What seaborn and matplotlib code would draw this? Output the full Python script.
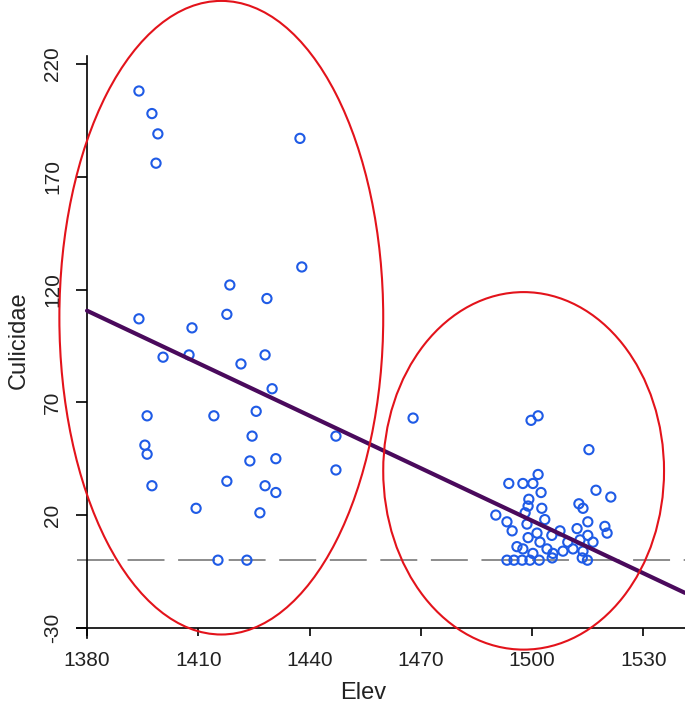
import matplotlib
matplotlib.use("Agg")
import matplotlib.pyplot as plt
from matplotlib.patches import Ellipse
import seaborn as sns
import pandas as pd

# ---- data ----
elev_low = [1394.0, 1397.5, 1399.1, 1398.6, 1437.4, 1437.9, 1418.5, 1428.5, 1394.0,
            1417.7, 1408.3, 1400.5, 1407.5, 1428.0, 1421.5, 1429.9, 1396.2, 1414.2,
            1425.6, 1424.5, 1447.1, 1395.6, 1396.2, 1423.9, 1430.9, 1447.1, 1417.7,
            1397.5, 1428.0, 1430.9, 1409.4, 1426.6, 1415.3, 1423.1]
culi_low = [208, 198, 189, 176, 187, 130, 122, 116, 107,
            109, 103, 90, 91, 91, 87, 76, 64, 64,
            66, 55, 55, 51, 47, 44, 45, 40, 35,
            33, 33, 30, 23, 21, 0, 0]

elev_mid = [1467.9]
culi_mid = [63]

elev_high = [1499.7, 1501.6, 1515.3, 1501.6, 1493.7, 1497.5, 1500.2, 1502.4, 1499.1,
             1517.2, 1521.2, 1512.6, 1513.7, 1498.9, 1502.6, 1490.2, 1498.1, 1493.2,
             1503.4, 1494.6, 1498.6, 1519.6, 1520.2, 1515.0, 1512.1, 1507.5, 1501.3,
             1505.3, 1515.0, 1498.9, 1495.9, 1502.1, 1509.6, 1512.9, 1516.4, 1497.5,
             1504.0, 1508.3, 1511.0, 1493.2, 1495.1, 1497.3, 1499.4, 1501.9, 1505.4,
             1513.5, 1514.9, 1500.2, 1505.6, 1513.7]
culi_high = [62, 64, 49, 38, 34, 34, 34, 30, 27,
             31, 28, 25, 23, 24, 23, 20, 21, 17,
             18, 13, 16, 15, 12, 17, 14, 13, 12,
             11, 11, 10, 6, 8, 8, 9, 8, 5,
             5, 4, 5, 0, 0, 0, 0, 0, 1,
             1, 0, 3, 3, 4]

# fitted line (value at 1380 and at the right edge)
fit_elev = [1380.0, 1541.2]
fit_culi = [110.6, -14.5]

ref_level = 0

x_ticks = [1380, 1410, 1440, 1470, 1500, 1530]
y_ticks = [-30, 20, 70, 120, 170, 220]

df = pd.DataFrame({
    "Elev": elev_low + elev_mid + elev_high,
    "Culicidae": culi_low + culi_mid + culi_high,
})
fit_df = pd.DataFrame({"Elev": fit_elev, "Culicidae": fit_culi})

# ---- drawing ----
sns.set_theme(style="ticks")
plt.rcParams["font.family"] = ["Liberation Sans", "DejaVu Sans"]

fig = plt.figure(figsize=(6.85, 7.11), dpi=100)
ax = fig.add_axes([77 / 685, 73 / 711, 608 / 685, 582.4 / 711])

ax.axhline(ref_level, color="#8c8c8c", lw=1.4, dashes=(19, 7), zorder=1)

sns.scatterplot(data=df, x="Elev", y="Culicidae", ax=ax, marker="o",
                s=44, facecolors="none", edgecolor="#1f5be6", linewidth=1.5,
                zorder=3, legend=False)

sns.lineplot(data=fit_df, x="Elev", y="Culicidae", ax=ax, color="#4a0a5c",
             lw=3.0, zorder=4, legend=False)

# highlight ellipses (annotation geometry)
for (cx, cy, w, h) in [(1416.2, 107.5, 87.3, 280.9), (1497.7, 39.6, 75.7, 158.5)]:
    ax.add_patch(Ellipse((cx, cy), w, h, fill=False, edgecolor="#e3131b",
                         lw=1.5, clip_on=False, zorder=5))

ax.set_xlim(1377.3, 1541.2)
ax.set_ylim(-34.5, 223.7)
ax.set_xticks(x_ticks)
ax.set_yticks(y_ticks)
ax.set_xticklabels([str(v) for v in x_ticks])
ax.set_yticklabels([str(v) for v in y_ticks])

for side in ["top", "right"]:
    ax.spines[side].set_visible(False)
ax.spines["left"].set_position(("data", 1380))
ax.spines["bottom"].set_position(("data", -30))
for side in ["left", "bottom"]:
    ax.spines[side].set_color("black")
    ax.spines[side].set_linewidth(1.2)

ax.tick_params(axis="x", length=6, width=1.2, color="black", pad=11,
               labelsize=15, labelcolor="#222222")
ax.tick_params(axis="y", length=8, width=1.2, color="black", pad=10,
               labelsize=15, labelcolor="#222222")
for t in ax.get_yticklabels():
    t.set_rotation(90)
    t.set_va("center")

ax.set_xlabel("Elev", fontsize=17, color="#222222")
ax.set_ylabel("Culicidae", fontsize=17, color="#222222")
ax.xaxis.set_label_coords((363 - 77) / 608, (638 - 682) / 582.4)
ax.yaxis.set_label_coords((30 - 77) / 608, (638 - 340) / 582.4)

fig.savefig("out.png", dpi=100)
